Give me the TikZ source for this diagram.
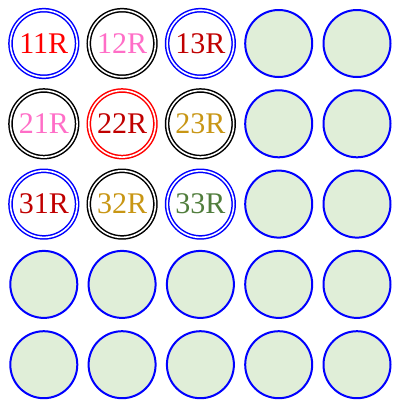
\documentclass[tikz,border=0pt]{standalone}
\usepackage{fontspec}
\setmainfont{Liberation Serif}
\definecolor{cpink}{RGB}{255,110,199}
\definecolor{cdred}{RGB}{192,0,0}
\definecolor{cgold}{RGB}{200,150,20}
\definecolor{cgreen}{RGB}{80,125,60}
\definecolor{cfill}{RGB}{224,238,216}
\tikzset{
  plain/.style={circle,draw=blue,line width=2pt,fill=cfill,minimum size=67pt,inner sep=0pt},
  dbl/.style={circle,draw=#1,double,line width=1.5pt,double distance=1.6pt,minimum size=66.6pt,inner sep=0pt,font=\fontsize{30}{30}\selectfont},
}
\begin{document}
\begin{tikzpicture}[x=1pt,y=-1pt]
\useasboundingbox (0,0) rectangle (398,405);
\def\cx#1{43.8+78.3*#1}
\def\cy#1{43.5+80.3*#1}
\node[dbl=blue,text=red] (n11) at ({\cx0},{\cy0}) {11R};
\node[dbl=black,text=cpink] (n12) at ({\cx1},{\cy0}) {12R};
\node[dbl=blue,text=cdred] (n13) at ({\cx2},{\cy0}) {13R};
\node[dbl=black,text=cpink] (n21) at ({\cx0},{\cy1}) {21R};
\node[dbl=red,text=cdred] (n22) at ({\cx1},{\cy1}) {22R};
\node[dbl=black,text=cgold] (n23) at ({\cx2},{\cy1}) {23R};
\node[dbl=blue,text=cdred] (n31) at ({\cx0},{\cy2}) {31R};
\node[dbl=black,text=cgold] (n32) at ({\cx1},{\cy2}) {32R};
\node[dbl=blue,text=cgreen] (n33) at ({\cx2},{\cy2}) {33R};
\node[plain] (n14) at ({\cx3},{\cy0}) {};
\node[plain] (n15) at ({\cx4},{\cy0}) {};
\node[plain] (n24) at ({\cx3},{\cy1}) {};
\node[plain] (n25) at ({\cx4},{\cy1}) {};
\node[plain] (n34) at ({\cx3},{\cy2}) {};
\node[plain] (n35) at ({\cx4},{\cy2}) {};
\node[plain] (n41) at ({\cx0},{\cy3}) {};
\node[plain] (n42) at ({\cx1},{\cy3}) {};
\node[plain] (n43) at ({\cx2},{\cy3}) {};
\node[plain] (n44) at ({\cx3},{\cy3}) {};
\node[plain] (n45) at ({\cx4},{\cy3}) {};
\node[plain] (n51) at ({\cx0},{\cy4}) {};
\node[plain] (n52) at ({\cx1},{\cy4}) {};
\node[plain] (n53) at ({\cx2},{\cy4}) {};
\node[plain] (n54) at ({\cx3},{\cy4}) {};
\node[plain] (n55) at ({\cx4},{\cy4}) {};
\end{tikzpicture}
\end{document}
